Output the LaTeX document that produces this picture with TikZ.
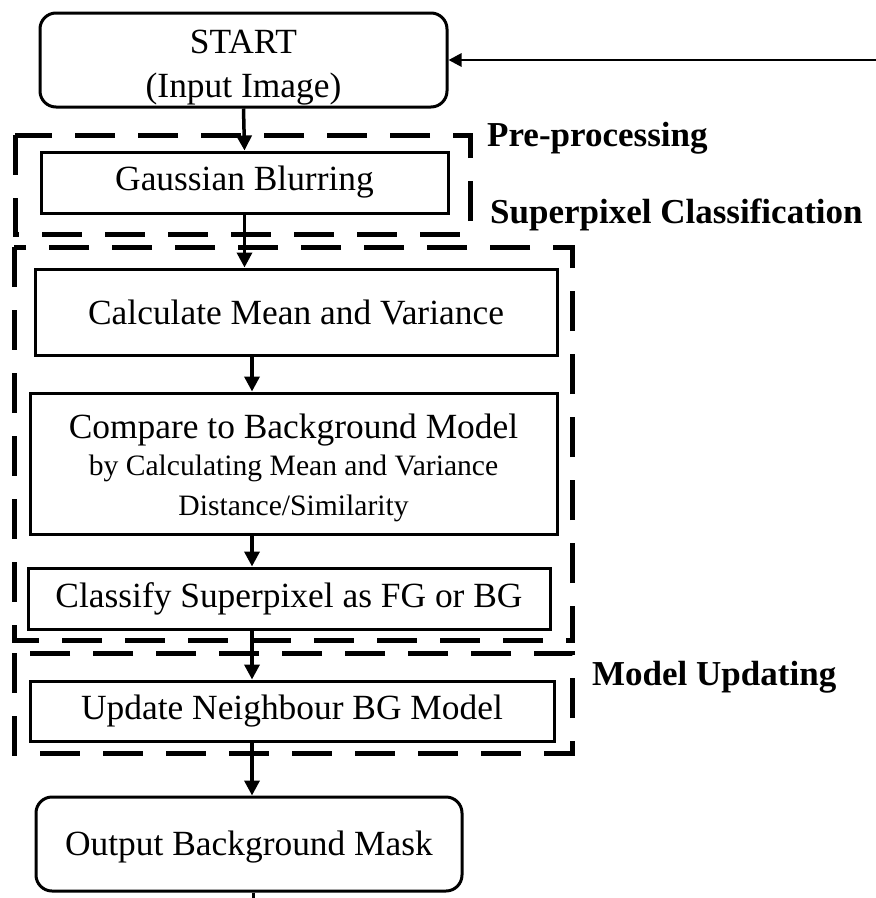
\documentclass[tikz,border=0pt]{standalone}
\usepackage{fontspec}
\setmainfont{Liberation Serif}
\usetikzlibrary{arrows.meta,calc}

\newcommand{\mainsize}{\fontsize{35.4}{44}\selectfont}
\newcommand{\subsize}{\fontsize{29.6}{37}\selectfont}

\begin{document}
\begin{tikzpicture}[x=1pt,y=-1pt,
  stage/.style={draw, line width=3pt, inner sep=0pt, align=center, font=\mainsize},
  roundstage/.style={stage, rounded corners=16pt},
  group/.style={line width=5pt, dash pattern=on 40pt off 23pt},
  grouplabel/.style={anchor=west, inner sep=0pt, font=\fontsize{35}{40}\selectfont\bfseries},
  flow/.style={line width=3.5pt, -{Triangle[length=15pt,width=15pt]}},
  feedback/.style={line width=2.8pt, -{Triangle[length=13pt,width=13pt]}}]

\useasboundingbox (0,0) rectangle (876,898);

% processing stages
\node[roundstage, minimum width=407pt, minimum height=94pt] (start) at (243.5,60)
  {\rule{0pt}{38pt}START\\(Input Image)};
\node[stage, minimum width=407pt, minimum height=61pt] (gauss) at (244.5,182.5) {Gaussian Blurring};
\node[stage, minimum width=522pt, minimum height=86pt] (calc) at (296,312) {Calculate Mean and Variance};
\node[stage, minimum width=527pt, minimum height=141pt] (cmp) at (293.5,463.5)
  {\rule{0pt}{34pt}Compare to Background Model\\[-7pt]{\subsize by Calculating Mean and Variance}\\[-4pt]{\subsize Distance/Similarity}};
\node[stage, minimum width=522pt, minimum height=61pt] (cls) at (289,598.5) {Classify Superpixel as FG or BG};
\node[stage, minimum width=524pt, minimum height=60pt] (upd) at (292,711) {Update Neighbour BG Model};
\node[roundstage, minimum width=426pt, minimum height=94pt] (out) at (249,844)
  {\rule{0pt}{30pt}Output Background Mask};

% dashed group frames
\draw[group] (15,135) rectangle (470,234);
\draw[group] (14,247) rectangle (572,640);
\draw[group] (14,653) rectangle (572,753);

% group labels
\node[grouplabel] (lpre) at (487,138) {Pre-processing};
\node[grouplabel] (lsup) at (490,215) {Superpixel Classification};
\node[grouplabel] (lmod) at (592,677) {Model Updating};

% connectors
\coordinate (axis) at (252,0);
\coordinate (feed) at (876,60);
\coordinate (tail) at (253,898);

\draw[feedback] (feed) -- (start.east);
\draw[flow] (start.south) -- (gauss.north);
\draw[flow] (gauss.south) -- (gauss.south |- calc.north);
\draw[flow] (calc.south -| axis) -- (cmp.north -| axis);
\draw[flow] (cmp.south -| axis) -- (cls.north -| axis);
\draw[flow] (cls.south -| axis) -- (upd.north -| axis);
\draw[flow] (upd.south -| axis) -- (out.north -| axis);
\draw[line width=3pt] (out.south -| tail) -- (tail);
\end{tikzpicture}
\end{document}
